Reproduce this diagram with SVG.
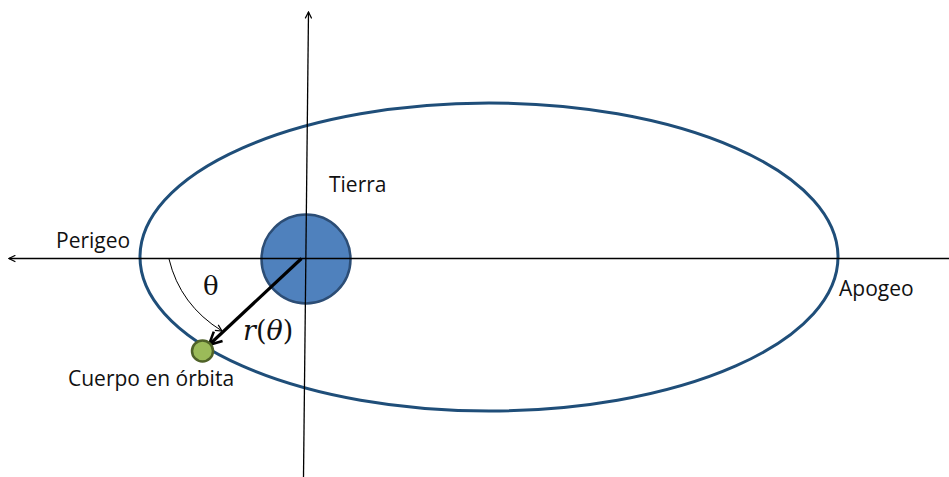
<svg xmlns="http://www.w3.org/2000/svg" width="949" height="477" viewBox="0 0 949 477">
<style>
.lbl{font-family:"Open Sans","Liberation Sans",sans-serif;font-size:21px;fill:#111}
.axis{stroke:#000;stroke-width:1.3;fill:none}
</style>
<defs>
<marker id="ah" viewBox="0 0 10 10" refX="9" refY="5" markerWidth="8" markerHeight="8" orient="auto" markerUnits="userSpaceOnUse">
<path d="M1,1 L9,5 L1,9" fill="none" stroke="#000" stroke-width="1.5"/>
</marker>
<marker id="ahb" viewBox="0 0 10 10" refX="8" refY="5" markerWidth="5" markerHeight="5" orient="auto">
<path d="M1,1 L9,5 L1,9" fill="none" stroke="#000" stroke-width="1.6"/>
</marker>
</defs>
<rect width="949" height="477" fill="#fff"/>
<g id="orbit">
<ellipse cx="489" cy="257" rx="349" ry="154" fill="none" stroke="#1f4e79" stroke-width="3"/>
</g>
<g id="tierra">
<circle cx="306" cy="259" r="44.5" fill="#4f81bd" stroke="#2c4d75" stroke-width="2.5"/>
<text class="lbl" x="329" y="192">Tierra</text>
</g>
<g id="connectors">
<line class="axis" x1="949" y1="258.5" x2="9" y2="258.5" marker-end="url(#ah)"/>
<line class="axis" x1="303.5" y1="477" x2="308.5" y2="12" marker-end="url(#ah)"/>
</g>
<g id="radius">
<line x1="301.5" y1="258.5" x2="210" y2="344" stroke="#000" stroke-width="3.2" marker-end="url(#ahb)"/>
<path d="M169,259 Q180,305 222,331" fill="none" stroke="#000" stroke-width="1" marker-end="url(#ah)"/>
<text x="203" y="295" font-family="'DejaVu Serif','Liberation Serif',serif" font-size="26" fill="#111">θ</text>
<text x="243" y="340" font-family="'DejaVu Serif','Liberation Serif',serif" font-size="27" fill="#111"><tspan font-style="italic">r</tspan>(<tspan font-style="italic">θ</tspan>)</text>
</g>
<g id="cuerpo">
<circle cx="202.5" cy="351" r="10.5" fill="#9bbb59" stroke="#4f6228" stroke-width="2.5"/>
<text class="lbl" x="68" y="386">Cuerpo en órbita</text>
</g>
<g id="perigeo"><text class="lbl" x="56" y="248">Perigeo</text></g>
<g id="apogeo"><text class="lbl" x="839" y="296">Apogeo</text></g>
</svg>
